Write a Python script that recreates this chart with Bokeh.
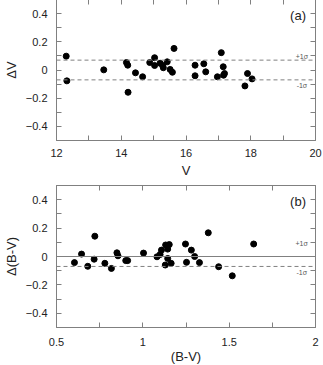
from bokeh.plotting import figure
from bokeh.layouts import column
from bokeh.models import FixedTicker, LinearAxis, Span, Range1d, Label
from bokeh.embed import file_html
from bokeh.resources import INLINE

# ---- data ----
v_mag = [12.30, 12.32, 13.46, 14.16, 14.20, 14.21, 14.44, 14.66, 14.88, 15.03,
         15.03, 15.20, 15.28, 15.30, 15.42, 15.51, 15.58, 15.63, 16.28, 16.28,
         16.55, 16.61, 16.97, 17.09, 17.15, 17.16, 17.19, 17.82, 17.90, 18.04]
delta_v = [0.098, -0.077, 0.001, 0.053, 0.034, -0.158, -0.020, -0.048, 0.053, 0.087,
           0.032, 0.048, 0.032, 0.016, 0.058, 0.004, -0.016, 0.153, 0.034, -0.041,
           0.044, -0.013, -0.048, 0.123, 0.023, -0.037, -0.025, -0.113, -0.025, -0.063]

bv = [0.604, 0.645, 0.681, 0.722, 0.718, 0.780, 0.818, 0.850, 0.856, 0.901,
      0.912, 1.004, 1.082, 1.100, 1.108, 1.132, 1.130, 1.144, 1.144, 1.153,
      1.164, 1.247, 1.253, 1.281, 1.300, 1.328, 1.379, 1.439, 1.518, 1.642]
delta_bv = [-0.043, 0.017, -0.069, 0.143, -0.019, -0.048, -0.084, 0.026, 0.005, -0.029,
            -0.029, 0.024, -0.002, 0.014, 0.045, 0.081, -0.060, 0.052, -0.014, 0.084,
            -0.048, 0.088, -0.041, 0.045, 0.000, -0.043, 0.167, -0.072, -0.136, 0.088]

sigma_v = 0.07
sigma_bv = 0.07

x1_major = [12, 14, 16, 18, 20]
x1_minor = [13, 15, 17, 19]
x2_major = [0.5, 1, 1.5, 2]
x2_minor = [0.75, 1.25, 1.75]
y_major = [-0.4, -0.2, 0, 0.2, 0.4]
y_minor = [-0.3, -0.1, 0.1, 0.3]

AX = "#808080"
FONT = "Liberation Sans"


def style_axis(ax, std=9):
    ax.axis_line_color = AX
    ax.major_tick_line_color = AX
    ax.minor_tick_line_color = AX
    ax.major_tick_in = 5
    ax.major_tick_out = 0
    ax.minor_tick_in = 5
    ax.minor_tick_out = 0
    ax.major_label_text_font = FONT
    ax.major_label_text_color = "#222222"
    ax.major_label_text_font_size = "11px"
    ax.major_label_standoff = std
    ax.axis_label_text_font = FONT
    ax.axis_label_text_font_style = "normal"
    ax.axis_label_text_color = "#222222"
    ax.axis_label_text_font_size = "13px"


def make_panel(x, y, xr, xmaj, xmin, xlabel, ylabel, tag, height, bt, bb,
               xover, lines, sig_x, xstd, xlab_std):
    p = figure(width=323, height=height, output_backend="svg", toolbar_location=None,
               x_range=Range1d(*xr), y_range=Range1d(-0.5, 0.5),
               x_axis_location=None, y_axis_location=None,
               min_border_left=48, min_border_right=8,
               min_border_top=bt, min_border_bottom=bb)
    p.outline_line_color = AX
    p.grid.visible = False
    p.background_fill_color = "white"
    p.border_fill_color = "white"

    xt = FixedTicker(ticks=xmaj, minor_ticks=xmin)
    yt = FixedTicker(ticks=y_major, minor_ticks=y_minor)
    # unlabeled mirror ticks (all as minor ticks, so no label texts)
    xt_m = FixedTicker(ticks=[], minor_ticks=sorted(xmaj + xmin))
    yt_m = FixedTicker(ticks=[], minor_ticks=sorted(y_major + y_minor))

    bx = LinearAxis(ticker=xt, axis_label=xlabel, major_label_overrides=xover)
    style_axis(bx, xstd)
    bx.axis_label_standoff = xlab_std
    p.add_layout(bx, "below")
    tx = LinearAxis(ticker=xt_m)
    style_axis(tx, 0)
    p.add_layout(tx, "above")

    ly = LinearAxis(ticker=yt, axis_label=ylabel, major_label_overrides={0: "0"})
    style_axis(ly, 9)
    ly.axis_label_standoff = 4
    p.add_layout(ly, "left")
    ry = LinearAxis(ticker=yt_m)
    style_axis(ry, 0)
    p.add_layout(ry, "right")

    for loc, dash in lines:
        p.add_layout(Span(location=loc, dimension="width", line_color=AX,
                          line_width=1, line_dash=dash))

    p.scatter(x, y, size=6, color="black", line_color="black")

    p.add_layout(Label(x=sig_x[0], y=0.095, text="+1σ", text_font=FONT,
                       text_font_size="7px", text_color="#555555",
                       text_align="center", text_baseline="middle"))
    p.add_layout(Label(x=sig_x[0], y=-0.11, text="-1σ", text_font=FONT,
                       text_font_size="7px", text_color="#555555",
                       text_align="center", text_baseline="middle"))
    p.add_layout(Label(x=sig_x[1], y=0.385, text=tag, text_font=FONT,
                       text_font_size="13px", text_color="#222222",
                       text_align="center", text_baseline="middle"))
    return p


p1 = make_panel(v_mag, delta_v, (12, 20), x1_major, x1_minor, "V", "ΔV", "(a)",
                181, 0, 40, {}, [(sigma_v, "4 3"), (-sigma_v, "4 3")],
                (19.58, 19.46), 8, 3)
p2 = make_panel(bv, delta_bv, (0.5, 2), x2_major, x2_minor, "(B-V)", "Δ(B-V)", "(b)",
                186, 5, 39, {1: "1", 2: "2"}, [(0, "solid"), (-sigma_bv, "4 3")],
                (1.92, 1.899), 10, 0)

layout = column(p1, p2, spacing=0,
                styles={"margin-top": "-1px", "max-height": "366px", "overflow": "hidden"})

open("out.html", "w").write(file_html(layout, INLINE))
